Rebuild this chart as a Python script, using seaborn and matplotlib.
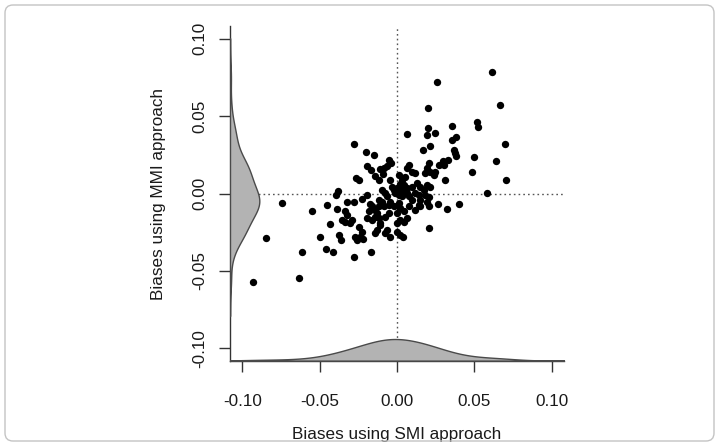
import matplotlib
matplotlib.use("Agg")
import matplotlib.pyplot as plt
import seaborn as sns
import pandas as pd
from matplotlib.patches import FancyBboxPatch

# Biases (SMI approach on x, MMI approach on y)
smi_bias = [
    -0.0932, -0.0850, -0.0745, -0.0631, -0.0614, -0.0551, -0.0497, -0.0461, -0.0416, -0.0435,
    -0.0452, -0.0388, -0.0396, -0.0381, -0.0280, -0.0166, -0.0280, -0.0200, -0.0149, 0.0067,
    0.0256, 0.0202, 0.0614, 0.0667, 0.0700, 0.0702, 0.0642, 0.0579, 0.0517, 0.0523,
    0.0497, 0.0484, 0.0357, 0.0353, 0.0383, 0.0366, 0.0372, 0.0381, 0.0310, 0.0323,
    0.0403, 0.0263, 0.0205, 0.0198, 0.0196, 0.0248, 0.0213, 0.0170, 0.0297, 0.0273,
    0.0306,
    -0.0194, -0.0166, -0.0267, -0.0245, -0.0118, -0.0194, -0.0323, -0.0280, -0.0226, -0.0177,
    -0.0161, -0.0140, -0.0183, -0.0194, -0.0161, -0.0140, -0.0129, -0.0334, -0.0323, -0.0355,
    -0.0334, -0.0306, -0.0291, -0.0248, -0.0226, -0.0241, -0.0269, -0.0258, -0.0220, -0.0377,
    -0.0362, -0.0144, -0.0108,
    -0.0054, -0.0039, -0.0065, -0.0082, -0.0108, -0.0093, 0.0075, 0.0065, 0.0097, 0.0114,
    0.0205, 0.0194, 0.0183, 0.0215, 0.0248, 0.0237, 0.0329, -0.0140, -0.0043, 0.0011,
    0.0032, 0.0054, 0.0022, 0.0047, 0.0129, 0.0194, 0.0215, -0.0022, 0.0000, 0.0022,
    0.0043, -0.0011, 0.0011, 0.0032, 0.0065, 0.0075, 0.0097, 0.0118, 0.0140, 0.0151,
    0.0183, 0.0205, -0.0097, -0.0075, -0.0065, -0.0118, -0.0097, -0.0043, -0.0054, -0.0086,
    -0.0118, 0.0194, 0.0205, 0.0118, 0.0140, 0.0011, 0.0022, 0.0043, 0.0075, -0.0118,
    -0.0075, -0.0054, 0.0065, 0.0043, 0.0022, 0.0000, -0.0065, -0.0108, -0.0129, 0.0000,
    0.0022, 0.0039, -0.0043, -0.0075,
    -0.0032, 0.0065, 0.0097, 0.0151, -0.0022, 0.0000, 0.0151, 0.0172,
]
mmi_bias = [
    -0.0575, -0.0287, -0.0062, -0.0543, -0.0379, -0.0116, -0.0280, -0.0356, -0.0377, -0.0196,
    -0.0073, -0.0101, -0.0009, 0.0019, -0.0409, -0.0375, 0.0323, 0.0267, 0.0252, 0.0386,
    0.0720, 0.0552, 0.0787, 0.0571, 0.0321, 0.0086, 0.0211, 0.0004, 0.0463, 0.0431,
    0.0237, 0.0136, 0.0437, 0.0345, 0.0364, 0.0282, 0.0261, 0.0241, 0.0088, -0.0101,
    -0.0069, -0.0069, -0.0226, 0.0425, 0.0377, 0.0390, 0.0304, 0.0282, 0.0207, 0.0183,
    0.0183,
    0.0175, 0.0153, 0.0099, 0.0088, 0.0088, -0.0009, -0.0052, -0.0056, -0.0037, -0.0067,
    -0.0084, -0.0106, -0.0116, -0.0159, -0.0170, -0.0153, -0.0127, -0.0110, -0.0138, -0.0170,
    -0.0181, -0.0192, -0.0170, -0.0218, -0.0246, -0.0278, -0.0282, -0.0300, -0.0295, -0.0267,
    -0.0300, -0.0256, -0.0192,
    0.0218, 0.0196, 0.0175, 0.0164, 0.0157, 0.0127, 0.0185, 0.0164, 0.0142, 0.0131,
    0.0196, 0.0164, 0.0131, 0.0142, 0.0142, 0.0119, 0.0218, 0.0110, 0.0088, 0.0121,
    0.0088, 0.0106, 0.0062, 0.0054, 0.0071, 0.0056, 0.0041, 0.0024, 0.0034, 0.0024,
    0.0013, 0.0002, -0.0009, -0.0019, 0.0002, -0.0019, -0.0041, 0.0002, -0.0009, -0.0041,
    -0.0009, -0.0024, 0.0024, 0.0002, -0.0019, -0.0041, -0.0052, -0.0052, -0.0073, -0.0084,
    -0.0084, -0.0052, -0.0078, -0.0106, -0.0073, -0.0062, -0.0095, -0.0116, -0.0084, -0.0159,
    -0.0149, -0.0127, -0.0159, -0.0181, -0.0170, -0.0192, -0.0235, -0.0203, -0.0235, -0.0246,
    -0.0267, -0.0278, -0.0278, -0.0256,
    0.0045, 0.0034, 0.0045, 0.0045, -0.0084, -0.0127, -0.0084, 0.0024,
]

tick_values = [-0.10, -0.05, 0.00, 0.05, 0.10]
tick_labels = ["-0.10", "-0.05", "0.00", "0.05", "0.10"]
x_label = "Biases using SMI approach"
y_label = "Biases using MMI approach"

df = pd.DataFrame({"smi": smi_bias, "mmi": mmi_bias})

sns.set_theme(style="white")
plt.rcParams["font.family"] = ["Liberation Sans", "DejaVu Sans"]

W, H = 719, 446
fig = plt.figure(figsize=(W / 100, H / 100), dpi=100)
fig.patch.set_facecolor("white")

ax_l, ax_r, ax_t, ax_b = 230, 564, 26.4, 360.6
ax = fig.add_axes([ax_l / W, (H - ax_b) / H, (ax_r - ax_l) / W, (ax_b - ax_t) / H])
ax.set_facecolor("white")
lim = (-0.108, 0.108)

dot_kw = dict(color="#555555", lw=1.0, linestyle=(0, (1.2, 2.2)), zorder=1)
ax.axhline(0, **dot_kw)
ax.axvline(0, **dot_kw)

sns.scatterplot(data=df, x="smi", y="mmi", ax=ax, color="black", s=28,
                linewidth=0, zorder=3)

dens_kw = dict(fill=True, alpha=1, facecolor="#b3b3b3", edgecolor="#4a4a4a",
               linewidth=1.0, cut=3)

# bottom marginal density (x)
axb = ax.twinx()
sns.kdeplot(data=df, x="smi", ax=axb, bw_adjust=1.25, **dens_kw)
axb.set_ylim(0, 216)
axb.set_axis_off()

# left marginal density (y)
axl = ax.twiny()
sns.kdeplot(data=df, y="mmi", ax=axl, bw_adjust=0.9, **dens_kw)
axl.set_xlim(0, 216)
axl.set_axis_off()

ax.set_xlim(lim)
ax.set_ylim(lim)

for s in ["top", "right"]:
    ax.spines[s].set_visible(False)
for s in ["left", "bottom"]:
    ax.spines[s].set_color("#333333")
    ax.spines[s].set_linewidth(1.0)

ax.set_xticks(tick_values)
ax.set_xticklabels(tick_labels)
ax.set_yticks(tick_values)
ax.set_yticklabels(tick_labels, rotation=90, va="center")
ax.tick_params(axis="both", direction="out", length=7.8, width=1.0,
               color="#333333", labelsize=12.3, labelcolor="#1a1a1a")
ax.tick_params(axis="x", pad=16.5)
ax.tick_params(axis="y", pad=8.5)

ax.set_xlabel(x_label, fontsize=12.3, color="#1a1a1a")
ax.set_ylabel(y_label, fontsize=12.3, color="#1a1a1a")
ax.xaxis.set_label_coords(0.5, (ax_b - 435) / (ax_b - ax_t))
ax.xaxis.label.set_va("center")
ax.yaxis.set_label_coords((159 - ax_l) / (ax_r - ax_l), 0.5)
ax.yaxis.label.set_va("center")

border = FancyBboxPatch((0.05, 0.05), W / 100 - 0.10, H / 100 - 0.10,
                        boxstyle="round,pad=0,rounding_size=0.08",
                        transform=fig.dpi_scale_trans, fill=False,
                        edgecolor="#c4c4c4", linewidth=1.0)
fig.patches.append(border)

fig.savefig("out.png", dpi=100, facecolor="white")
